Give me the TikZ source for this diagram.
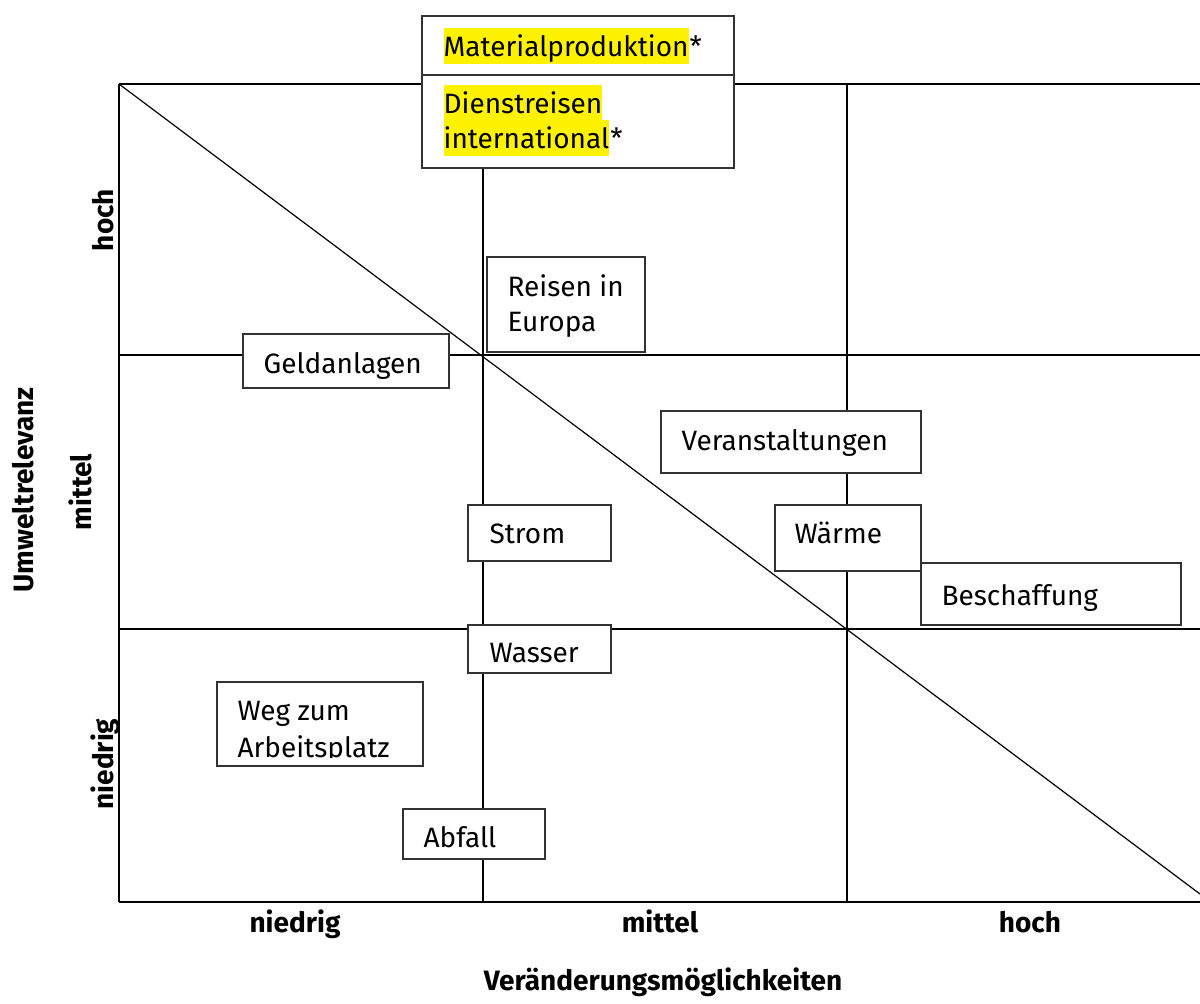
\documentclass[tikz,border=0pt]{standalone}
\usepackage{fontspec}
\setmainfont{Fira Sans}
\begin{document}
\begin{tikzpicture}[x=0.5pt, y=-0.5pt, line width=0.6pt,
  box/.style = {draw=black!80, fill=white, line width=0.8pt},
  txt/.style = {anchor=base west, inner sep=0pt, font=\fontsize{14}{17}\selectfont},
  hl/.style = {txt, fill=yellow, text height=14pt, text depth=4pt},
  achse/.style = {anchor=base, inner sep=0pt, font=\fontsize{14}{17}\selectfont\bfseries}]
	\useasboundingbox (0,0) rectangle (1200,1003);
	
	% Raster
	\draw (119,84) -- (1200,84);
	\draw (119,355) -- (1200,355);
	\draw (119,629) -- (1200,629);
	\draw (119,902) -- (1200,902);
	\draw (119,84) -- (119,902);
	\draw (483,84) -- (483,902);
	\draw (847,84) -- (847,902);
	\draw (119,84) -- (1200,894);
	
	% Kaesten
	\draw[box] (422,16) rectangle (734,168);
	\draw[box] (422,75) -- (734,75);
	\draw[box] (487,257) rectangle (645,352);
	\draw[box] (243,334) rectangle (449,388);
	\draw[box] (661,411) rectangle (921,473);
	\draw[box] (468,505) rectangle (611,561);
	\draw[box] (775,505) rectangle (921,571);
	\draw[box] (921,563) rectangle (1181,625);
	\draw[box] (468,625) rectangle (611,673);
	\draw[box] (217,682) rectangle (423,766);
	\draw[box] (403,809) rectangle (545,859);
	
	% Texte
	\node[hl] (mat) at (443,56) {Materialproduktion};
	\node[txt] (matstern) at (mat.base east) {*};
	\node[hl] (dienst) at (443,113) {Dienstreisen};
	\node[hl] (intern) at (443,148) {international};
	\node[txt] (internstern) at (intern.base east) {*};
	\node[txt] (reisen) at (507,296) {Reisen in};
	\node[txt] (europa) at (507,331) {Europa};
	\node[txt] (geld) at (263,373) {Geldanlagen};
	\node[txt] (veran) at (681,450) {Veranstaltungen};
	\node[txt] (strom) at (489,543) {Strom};
	\node[txt] (waerme) at (794,543) {Wärme};
	\node[txt] (beschaff) at (941,605) {Beschaffung};
	\node[txt] (wasser) at (489,662) {Wasser};
	\node[txt] (weg) at (237,720) {Weg zum};
	\begin{scope}
		\clip (217,682) rectangle (423,757);
		\node[txt] (arbeit) at (237,757) {Arbeitsplatz};
	\end{scope}
	\node[txt] (abfall) at (423,847) {Abfall};
	
	% Achsen
	\node[achse] (xniedrig) at (295,932) {niedrig};
	\node[achse] (xmittel) at (660,932) {mittel};
	\node[achse] (xhoch) at (1030,932) {hoch};
	\node[achse] (xtitel) at (663,990) {Veränderungsmöglichkeiten};
	\node[achse, rotate=90] (yhoch) at (113,220) {hoch};
	\node[achse, rotate=90] (ymittel) at (91,492) {mittel};
	\node[achse, rotate=90] (yniedrig) at (113,764) {niedrig};
	\node[achse, rotate=90] (ytitel) at (33,490) {Umweltrelevanz};
	
\end{tikzpicture}
\end{document}
